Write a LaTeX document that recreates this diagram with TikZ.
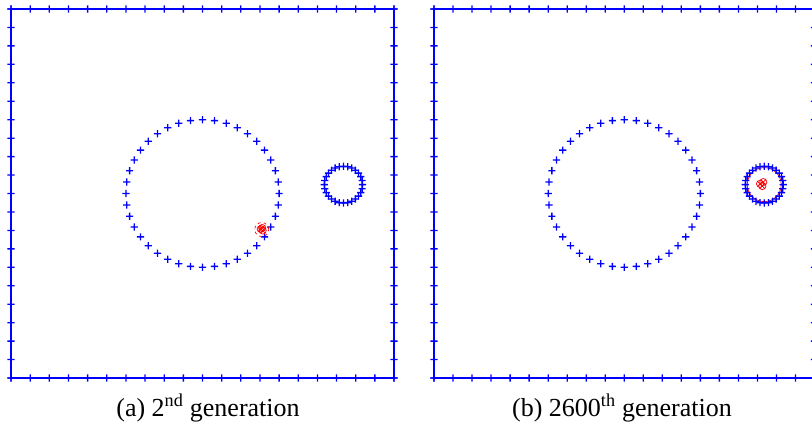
\documentclass[tikz,border=0pt]{standalone}
\usepackage{fontspec}
\setmainfont{Liberation Serif}
\usetikzlibrary{calc}
\tikzset{
  frame/.style={draw=blue, line width=1.3pt},
  bluemark/.style={fill=blue},
  redmark/.style={draw=red, line width=0.7pt},
  caption/.style={font=\fontsize{26}{31}\selectfont, anchor=base}
}
\newcommand\plusmark[1]{\fill[bluemark] (#1) +(-3.6pt,-0.65pt) rectangle +(3.6pt,0.65pt) (#1) +(-0.65pt,-3.6pt) rectangle +(0.65pt,3.6pt);}
\newcommand\otimesmark[1]{\draw[redmark] (#1) circle (3.6pt) (#1) +(-2.5pt,-2.5pt) -- +(2.5pt,2.5pt) (#1) +(-2.5pt,2.5pt) -- +(2.5pt,-2.5pt);}

\begin{document}
\begin{tikzpicture}[x=1pt, y=-1pt]
\useasboundingbox (0,0) rectangle (812,428);
\clip (0,0) rectangle (812,428);

%% ── (a) 2nd generation ───────────────────────────────────────
\begin{scope}[shift={(202.5,193.5)}, x=38.3pt, y=36.9pt]
  \draw[frame] (-5,-5) rectangle (5,5);
  \foreach \i in {0,...,20} {
    \plusmark{-5+0.5*\i,5}
    \plusmark{-5+0.5*\i,-5}
    \plusmark{-5,-5+0.5*\i}
    \plusmark{5,-5+0.5*\i}
  }
  \foreach \a in {0,...,39} \plusmark{{2*cos(\a*9)},{2*sin(\a*9)}};
  \foreach \a in {0,...,27} \plusmark{{3.68+0.5*cos(\a*360/28)},{0.24+0.5*sin(\a*360/28)}};
  %% red cluster on the big circle
  \coordinate (ca) at (1.546,-0.976);
  \draw[redmark, dashed] (ca) circle (7pt);
  \otimesmark{$(ca)+(-1pt,0.5pt)$}
  \otimesmark{$(ca)+(1pt,-1pt)$}
  \otimesmark{$(ca)+(0.5pt,1.5pt)$}
\end{scope}

%% ── (b) 2600th generation ────────────────────────────────────
\begin{scope}[shift={(624.25,193.5)}, x=38.05pt, y=36.9pt]
  \draw[frame] (-5,-5) rectangle (5,5);
  \draw[redmark] (3.68,0.24) circle (17pt);
  \foreach \i in {0,...,20} {
    \plusmark{-5+0.5*\i,5}
    \plusmark{-5+0.5*\i,-5}
    \plusmark{-5,-5+0.5*\i}
    \plusmark{5,-5+0.5*\i}
  }
  \foreach \a in {0,...,39} \plusmark{{2*cos(\a*9)},{2*sin(\a*9)}};
  \foreach \a in {0,...,27} \plusmark{{3.68+0.5*cos(\a*360/28)},{0.24+0.5*sin(\a*360/28)}};
  %% red cluster in the small circle
  \coordinate (cb) at (3.62,0.257);
  \otimesmark{$(cb)+(-2pt,0.2pt)$}
  \otimesmark{$(cb)+(1.3pt,1.9pt)$}
  \otimesmark{$(cb)+(0.3pt,-2.1pt)$}
\end{scope}

%% ── captions ─────────────────────────────────────────────────
\node[caption] (capa) at (208,416) {(a) 2\textsuperscript{nd} generation};
\node[caption] (capb) at (622,416) {(b) 2600\textsuperscript{th} generation};

\end{tikzpicture}
\end{document}
